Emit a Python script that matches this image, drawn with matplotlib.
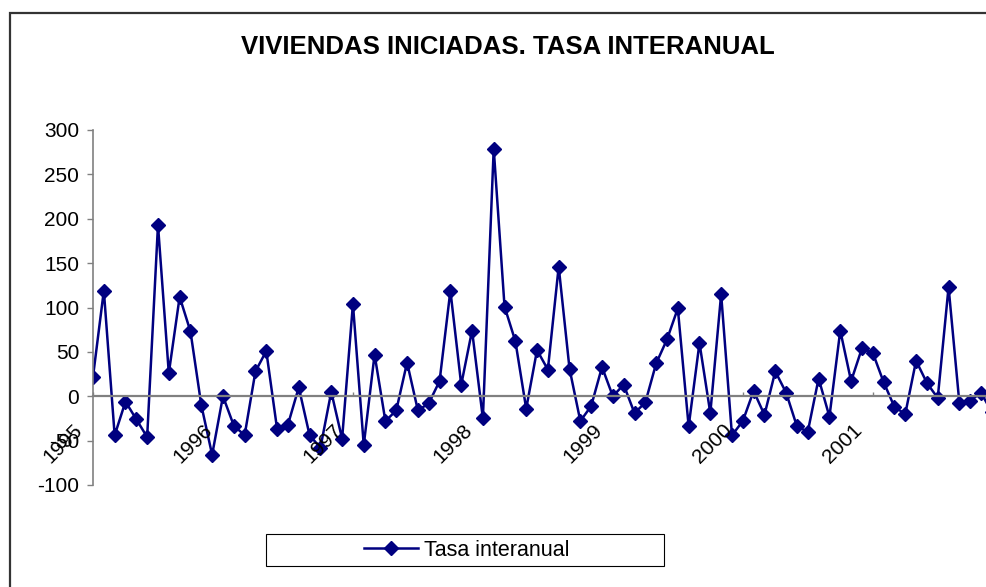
import matplotlib
matplotlib.use("Agg")
import matplotlib.pyplot as plt
from matplotlib.patches import Rectangle
from matplotlib.lines import Line2D

plt.rcParams['font.family'] = ['Liberation Sans', 'DejaVu Sans']

# tasa interanual mensual (%), enero 1995 en adelante
tasa = [22, 119, -44, -6, -26, -46, 193, 26, 112, 73, -10, -66,
        0, -33, -44, 28, 51, -37, -32, 10, -44, -58, 5, -48,
        104, -55, 47, -28, -16, 38, -16, -8, 17, 119, 13, 74,
        -25, 279, 101, 62, -14, 52, 30, 146, 31, -28, -11, 33,
        0, 13, -19, -7, 37, 64, 99, -34, 60, -19, 115, -44,
        -28, 6, -21, 28, 4, -34, -40, 20, -23, 74, 17, 54,
        49, 16, -12, -20, 40, 15, -2, 123, -8, -5, 4, -18]
anios = ["1995", "1996", "1997", "1998", "1999", "2000", "2001"]
y_ticks = [-100, -50, 0, 50, 100, 150, 200, 250, 300]

W, H = 986, 587
fig = plt.figure(figsize=(W / 100, H / 100), dpi=100)

# marco exterior (se sale por la derecha y por abajo)
fig.patches.append(Rectangle((10 / W, -0.1), 1.2, 1 - 13 / H + 0.1,
                             transform=fig.transFigure, fill=False,
                             edgecolor="#333333", linewidth=1.6))

ax_left = 93 / W
ax_bottom = (H - 485) / H
ax_top = (H - 130) / H
ax_right = (93 + 84 * 10.83) / W
ax = fig.add_axes([ax_left, ax_bottom, ax_right - ax_left, ax_top - ax_bottom])
ax.patch.set_alpha(0)

x = list(range(len(tasa)))
ax.plot(x, tasa, color="#000080", linewidth=1.8, marker="D",
        markersize=7.2, markerfacecolor="#000080", markeredgecolor="#000080")

ax.set_xlim(0, 84)
ax.set_ylim(-100, 300)

for s in ["top", "right"]:
    ax.spines[s].set_visible(False)
ax.spines["bottom"].set_position(("data", 0))
ax.spines["bottom"].set_color("#808080")
ax.spines["bottom"].set_linewidth(1.6)
ax.spines["left"].set_color("#808080")
ax.spines["left"].set_linewidth(1.2)

ax.set_yticks(y_ticks)
ax.set_yticklabels([str(v) for v in y_ticks])
ax.tick_params(axis="y", direction="out", length=4, width=1, color="#808080",
               labelsize=15, pad=6)

ticks_x = [12 * i for i in range(len(anios))]
ax.set_xticks(ticks_x)
ax.set_xticklabels([])
ax.tick_params(axis="x", direction="in", length=3, width=1, color="#808080")

for t, lab in zip(ticks_x, anios):
    ax.annotate(lab, xy=(t, 0), xytext=(-20, -24), textcoords="offset pixels",
                ha="right", va="top", rotation=45, rotation_mode="anchor",
                fontsize=15, annotation_clip=False)

fig.text(0.515, 1 - 47 / H, "VIVIENDAS INICIADAS. TASA INTERANUAL",
         ha="center", va="center", fontsize=18.5, fontweight="bold")

# leyenda
fig.patches.append(Rectangle((266 / W, (H - 566) / H), 398 / W, 32 / H,
                             transform=fig.transFigure, fill=False,
                             edgecolor="#000000", linewidth=0.8))
handle = Line2D([], [], color="#000080", linewidth=1.8, marker="D",
                markersize=7.2)
fig.legend([handle], ["Tasa interanual"], loc="center",
           bbox_to_anchor=(467 / W, (H - 550) / H), frameon=False,
           fontsize=15.5, handlelength=2.5, handletextpad=0.3)

fig.savefig("out.png", dpi=100)
